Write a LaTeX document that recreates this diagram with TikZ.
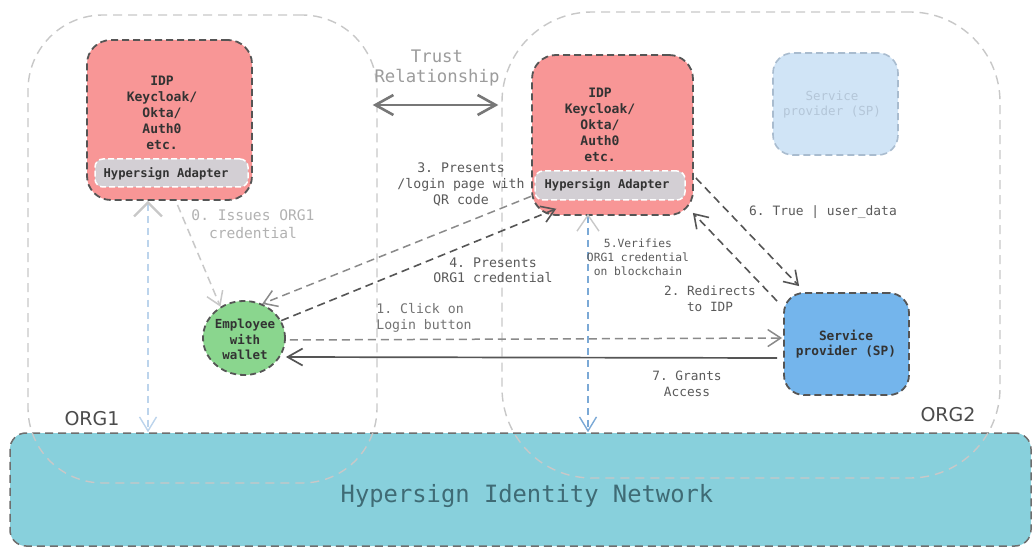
\documentclass[tikz,border=0pt]{standalone}
\usepackage{fontspec}
\setmainfont{DejaVu Sans}
\setmonofont{DejaVu Sans Mono}
\usetikzlibrary{arrows.meta,shapes.geometric,calc}
\definecolor{dkline}{HTML}{555555}
\definecolor{gline}{HTML}{8A8A8A}
\definecolor{contline}{HTML}{C8C8C8}
\definecolor{idpfill}{HTML}{F89696}
\definecolor{adaptfill}{HTML}{D3CFD4}
\definecolor{spfill}{HTML}{74B5EC}
\definecolor{ghostfill}{HTML}{D0E4F6}
\definecolor{ghostline}{HTML}{A9BCCF}
\definecolor{ghosttext}{HTML}{B4C6D8}
\definecolor{empfill}{HTML}{8AD68E}
\definecolor{netfill}{HTML}{88D0DC}
\definecolor{nettext}{HTML}{3F6B75}
\definecolor{txtdark}{HTML}{333333}
\definecolor{lblgray}{HTML}{5A5A5A}
\definecolor{lightlbl}{HTML}{B2B2B2}
\definecolor{trustlbl}{HTML}{9C9C9C}
\definecolor{blueA}{HTML}{BCD4EC}
\definecolor{blueB}{HTML}{7BA9D6}
\begin{document}
\begin{tikzpicture}[x=1pt,y=-1pt,
  container/.style={draw=contline, line width=1.4pt, dash pattern=on 9pt off 6pt, inner sep=0pt},
  nodebox/.style={draw=dkline, line width=1.8pt, dash pattern=on 7pt off 4pt, rounded corners=24pt, inner sep=0pt},
  adapter/.style={fill=adaptfill, draw=white, line width=1.5pt, dash pattern=on 6pt off 3pt, rounded corners=8pt, inner sep=0pt},
  ntext/.style={font=\ttfamily\bfseries\fontsize{13}{16}\selectfont, text=txtdark, align=center, inner sep=0pt},
  lbl/.style={font=\ttfamily\fontsize{13.2}{16}\selectfont, text=lblgray, align=center, inner sep=0pt},
  darrow/.style={draw=dkline, line width=1.6pt, dash pattern=on 8pt off 5pt, -{Straight Barb[length=13pt,width=17pt]}},
  garrow/.style={draw=gline, line width=1.5pt, dash pattern=on 8pt off 5pt, -{Straight Barb[length=13pt,width=17pt]}},
  lgarrow/.style={draw=contline, line width=1.5pt, dash pattern=on 8pt off 5pt, -{Straight Barb[length=13pt,width=17pt]}},
  sarrow/.style={draw=dkline, line width=1.7pt, -{Straight Barb[length=15pt,width=17pt]}},
]
\useasboundingbox (0,0) rectangle (1034,548);
\fill[white] (0,0) rectangle (1034,548);

% network
\node[fill=netfill, draw=dkline!85, line width=1.5pt, dash pattern=on 8pt off 5pt, rounded corners=16pt, minimum width=1021pt, minimum height=113pt, inner sep=0pt] (net) at (520.5,489.5) {};
\node[font=\ttfamily\fontsize{23.8}{28}\selectfont, text=nettext, inner sep=0pt] (nettxt) at (527,496) {Hypersign Identity Network};

% containers
\node[container, rounded corners=75pt, minimum width=349pt, minimum height=468pt] (org1) at (202.5,249) {};
\node[container, rounded corners=90pt, minimum width=498pt, minimum height=466pt] (org2) at (751,245) {};
\node[font=\fontsize{19}{22}\selectfont, text=dkline!90!black, inner sep=0pt] (org1lbl) at (92,419) {ORG1};
\node[font=\fontsize{19}{22}\selectfont, text=dkline!90!black, inner sep=0pt] (org2lbl) at (948,415) {ORG2};

% IDP 1
\node[nodebox, fill=idpfill, minimum width=165pt, minimum height=160pt] (idp1) at (169.5,120) {};
\node[ntext] (idp1txt) at (162,113) {IDP\\Keycloak/\\Okta/\\Auth0\\etc.};
\node[adapter, minimum width=153pt, minimum height=28pt] (adapter1) at (171.5,173) {};
\node[ntext, font=\ttfamily\bfseries\fontsize{12.2}{15}\selectfont] (ad1txt) at (166,174) {Hypersign Adapter};

% IDP 2
\node[nodebox, fill=idpfill, minimum width=161pt, minimum height=160pt] (idp2) at (612.5,135) {};
\node[ntext] (idp2txt) at (600,125) {IDP\\Keycloak/\\Okta/\\Auth0\\etc.};
\node[adapter, minimum width=150pt, minimum height=29pt] (adapter2) at (610,185.5) {};
\node[ntext, font=\ttfamily\bfseries\fontsize{12.2}{15}\selectfont] (ad2txt) at (607,185) {Hypersign Adapter};

% ghost SP
\node[draw=ghostline, fill=ghostfill, line width=1.6pt, dash pattern=on 7pt off 4pt, rounded corners=20pt, minimum width=125pt, minimum height=102pt, inner sep=0pt] (spghost) at (835.5,104) {};
\node[font=\ttfamily\fontsize{12.5}{15}\selectfont, text=ghosttext, align=center, inner sep=0pt] (spghosttxt) at (832,104.5) {Service\\provider (SP)};

% SP
\node[nodebox, fill=spfill, rounded corners=20pt, minimum width=125pt, minimum height=102pt] (sp) at (846.5,344) {};
\node[ntext, font=\ttfamily\bfseries\fontsize{12.8}{15}\selectfont] (sptxt) at (846,344.5) {Service\\provider (SP)};

% employee
\node[ellipse, fill=empfill, draw=dkline, line width=1.8pt, dash pattern=on 6pt off 4pt, minimum width=82pt, minimum height=74pt, inner sep=0pt] (emp) at (244,338) {};
\node[ntext, font=\ttfamily\bfseries\fontsize{12.5}{15.5}\selectfont] (emptxt) at (245,339.5) {Employee\\with\\wallet};

% trust relationship
\coordinate (trusty) at (0,105);
\draw[draw=dkline!80, line width=2.6pt, {Straight Barb[length=18pt,width=20pt]}-{Straight Barb[length=18pt,width=20pt]}] ([xshift=-5pt]org1.east |- trusty) -- ([xshift=-3pt]org2.west |- trusty);
\node[font=\ttfamily\fontsize{17.3}{20}\selectfont, text=trustlbl, align=center, inner sep=0pt] (trustlbl) at (437,68) {Trust\\Relationship};

% blockchain links
\coordinate (v1) at (148,0);
\coordinate (v2) at (588,0);
\draw[draw=blueA, line width=1.4pt, dash pattern=on 7pt off 5pt, {Straight Barb[length=14pt,width=28pt,color=contline,line width=2.2pt]}-{Straight Barb[length=14pt,width=17pt]}] (v1 |- idp1.south) -- (v1 |- net.north);
\draw[draw=blueB, line width=1.4pt, dash pattern=on 7pt off 5pt, {Straight Barb[length=16pt,width=22pt,color=contline]}-{Straight Barb[length=14pt,width=17pt]}] ([yshift=2pt]v2 |- idp2.south) -- (v2 |- net.north);

% 0
\draw[lgarrow] ([xshift=8pt,yshift=-4pt]idp1.south) -- (emp.127);
\node[lbl, text=lightlbl, font=\ttfamily\fontsize{14.6}{18}\selectfont] (l0) at (253,224) {0. Issues ORG1\\credential};

% 3
\draw[garrow] (idp2.217) -- (emp.62);
\node[lbl] (l3) at (461,184) {3. Presents\\/login page with\\QR code};

% 4
\draw[darrow] (emp.25) -- ([xshift=22pt,yshift=-8pt]adapter2.south west);
\node[lbl, font=\ttfamily\fontsize{13.2}{15}\selectfont] (l4) at (493,270.5) {4. Presents\\ORG1 credential};

% 5
\node[lbl, font=\ttfamily\fontsize{11.3}{14}\selectfont] (l5) at (638,257) {5.Verifies\\ORG1 credential\\on blockchain};

% 1
\draw[garrow] ([xshift=4pt,yshift=-2pt]emp.east) -- ([xshift=-1pt,yshift=6pt]sp.west);
\node[lbl, align=left, text=lblgray!85] (l1) at (424,317.5) {1. Click on\\Login button};

% 7
\draw[sarrow] ([xshift=-6pt,yshift=-14pt]sp.west) -- ([yshift=-19pt]emp.east);
\node[lbl, font=\ttfamily\fontsize{12.8}{16}\selectfont] (l7) at (687,384) {7. Grants\\Access};

% 2
\draw[darrow] ([xshift=-6pt,yshift=-9pt]sp.north west) -- ([xshift=-1pt,yshift=3pt]idp2.south east);
\node[lbl, font=\ttfamily\fontsize{12.7}{16}\selectfont] (l2) at (710,299) {2. Redirects\\to IDP};

% 6
\draw[darrow] ([xshift=2pt,yshift=-43pt]idp2.east) -- ([xshift=16pt,yshift=6pt]sp.north west);
\node[lbl, font=\ttfamily\fontsize{12.9}{16}\selectfont] (l6) at (823,212) {6. True | user\_data};
\end{tikzpicture}
\end{document}
